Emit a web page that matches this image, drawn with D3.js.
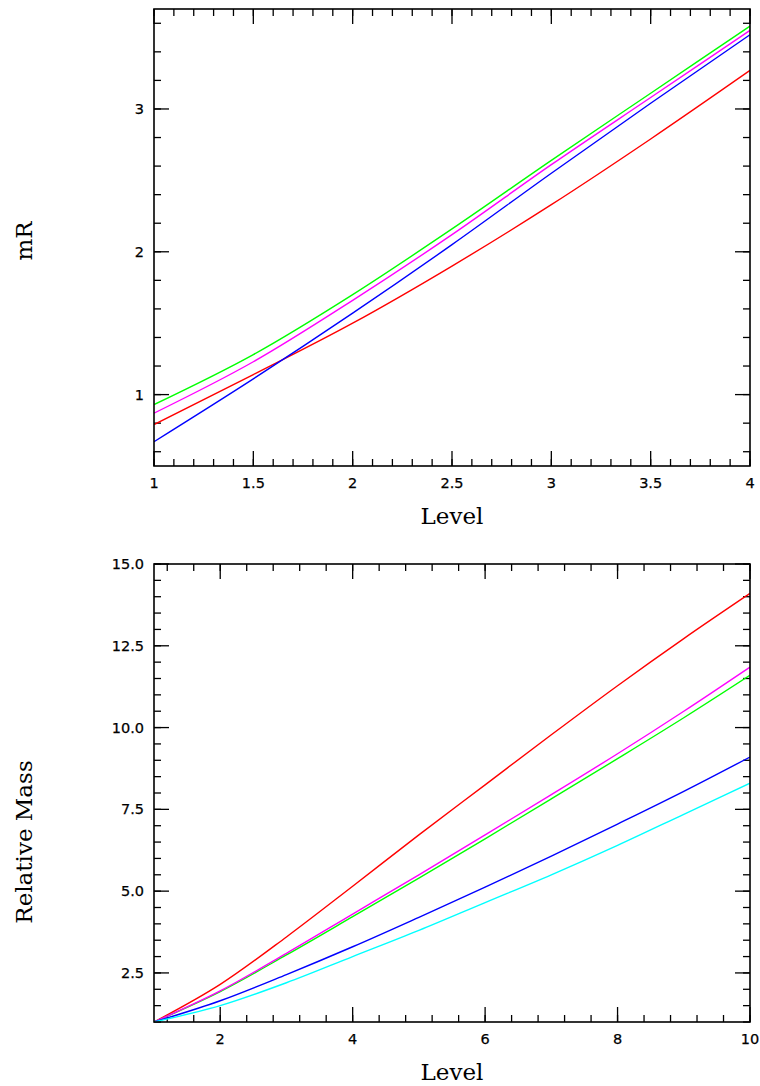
<!DOCTYPE html>
<html><head><meta charset="utf-8">
<script src="https://cdn.jsdelivr.net/npm/d3@7"></script>
<style>body{margin:0;background:#fff}svg{display:block}</style>
</head><body>
<svg id="c" width="760" height="1086"></svg>
<script>
// Top panel data (Level vs mR)
const topLevels = [1, 1.5, 2, 2.5, 3, 3.5, 4];
const topGreen   = [0.93, 1.28, 1.70, 2.16, 2.64, 3.11, 3.58];
const topMagenta = [0.87, 1.23, 1.66, 2.12, 2.61, 3.08, 3.55];
const topBlue    = [0.67, 1.11, 1.57, 2.05, 2.55, 3.04, 3.52];
const topRed     = [0.79, 1.14, 1.50, 1.90, 2.33, 2.79, 3.27];
const topXTicks = [1, 1.5, 2, 2.5, 3, 3.5, 4];
const topYTicks = [1, 2, 3];

// Bottom panel data (Level vs Relative Mass)
const botLevels = [1, 2, 3, 4, 5, 6, 7, 8, 9, 10];
const botRed     = [1, 2.15, 3.60, 5.15, 6.72, 8.25, 9.78, 11.28, 12.72, 14.10];
const botMagenta = [1, 1.95, 3.10, 4.30, 5.50, 6.72, 7.95, 9.20, 10.50, 11.85];
const botGreen   = [1, 1.93, 3.05, 4.22, 5.40, 6.60, 7.82, 9.05, 10.30, 11.60];
const botBlue    = [1, 1.65, 2.45, 3.30, 4.20, 5.12, 6.07, 7.05, 8.05, 9.10];
const botCyan    = [1, 1.50, 2.20, 3.00, 3.80, 4.65, 5.50, 6.40, 7.35, 8.30];
const botXTicks = [2, 4, 6, 8, 10];
const botYTicks = [2.5, 5.0, 7.5, 10.0, 12.5, 15.0];

const svg = d3.select("#c");

function panel(opts) {
  const {x0, x1, y0, y1, xdom, ydom, xMinorStep, yMinorStep, xTicks, yTicks, xFmt, yFmt, series, xs, xTitle, yTitle, yTitleY, xTitleY} = opts;
  const x = d3.scaleLinear().domain(xdom).range([x0, x1]);
  const y = d3.scaleLinear().domain(ydom).range([y1, y0]);
  const g = svg.append("g");
  const clipId = "clip" + Math.round(y0);
  svg.append("clipPath").attr("id", clipId).append("rect")
    .attr("x", x0).attr("y", y0).attr("width", x1 - x0).attr("height", y1 - y0);

  const eps = 1e-9;
  const xMinor = d3.range(Math.ceil(xdom[0] / xMinorStep - eps) * xMinorStep, xdom[1] + eps, xMinorStep);
  const yMinor = d3.range(Math.ceil(ydom[0] / yMinorStep - eps) * yMinorStep, ydom[1] + eps, yMinorStep);
  const minL = 7, majL = 15;
  const tickG = g.append("g").attr("stroke", "#000").attr("stroke-width", 1.3);
  xMinor.forEach(v => {
    const px = x(v);
    tickG.append("line").attr("x1", px).attr("x2", px).attr("y1", y1).attr("y2", y1 - minL);
    tickG.append("line").attr("x1", px).attr("x2", px).attr("y1", y0).attr("y2", y0 + minL);
  });
  xTicks.forEach(v => {
    const px = x(v);
    tickG.append("line").attr("x1", px).attr("x2", px).attr("y1", y1).attr("y2", y1 - majL);
    tickG.append("line").attr("x1", px).attr("x2", px).attr("y1", y0).attr("y2", y0 + majL);
  });
  yMinor.forEach(v => {
    const py = y(v);
    tickG.append("line").attr("x1", x0).attr("x2", x0 + minL).attr("y1", py).attr("y2", py);
    tickG.append("line").attr("x1", x1).attr("x2", x1 - minL).attr("y1", py).attr("y2", py);
  });
  yTicks.forEach(v => {
    const py = y(v);
    tickG.append("line").attr("x1", x0).attr("x2", x0 + majL).attr("y1", py).attr("y2", py);
    tickG.append("line").attr("x1", x1).attr("x2", x1 - majL).attr("y1", py).attr("y2", py);
  });

  const line = d3.line().x((d, i) => x(xs[i])).y(d => y(d)).curve(d3.curveMonotoneX);
  series.forEach(s => {
    g.append("path").attr("d", line(s.values)).attr("fill", "none")
      .attr("stroke", s.color).attr("stroke-width", 1.4).attr("clip-path", `url(#${clipId})`);
  });

  g.append("rect").attr("x", x0).attr("y", y0).attr("width", x1 - x0).attr("height", y1 - y0)
    .attr("fill", "none").attr("stroke", "#000").attr("stroke-width", 1.6);

  const lab = g.append("g").attr("font-family", "DejaVu Sans, sans-serif").attr("font-size", 14.5)
    .attr("fill", "#000").attr("stroke", "#000").attr("stroke-width", 0.25);
  xTicks.forEach(v => {
    lab.append("text").attr("x", x(v)).attr("y", y1 + 22).attr("text-anchor", "middle").text(xFmt(v));
  });
  yTicks.forEach(v => {
    lab.append("text").attr("x", x0 - 10).attr("y", y(v) + 5).attr("text-anchor", "end").text(yFmt(v));
  });

  g.append("text").attr("x", (x0 + x1) / 2).attr("y", xTitleY).attr("text-anchor", "middle")
    .attr("font-family", "DejaVu Serif, serif").attr("font-size", 23).text(xTitle);
  g.append("text").attr("transform", `translate(32,${yTitleY}) rotate(-90)`).attr("text-anchor", "middle")
    .attr("font-family", "DejaVu Serif, serif").attr("font-size", 23).text(yTitle);
}

panel({
  x0: 154, x1: 750, y0: 9, y1: 466,
  xdom: [1, 4], ydom: [0.5, 3.7],
  xMinorStep: 0.1, yMinorStep: 0.2,
  xTicks: topXTicks, yTicks: topYTicks,
  xFmt: d => String(d), yFmt: d => String(d),
  xs: topLevels,
  series: [
    {values: topRed, color: "#ff0000"},
    {values: topGreen, color: "#00ff00"},
    {values: topMagenta, color: "#ff00ff"},
    {values: topBlue, color: "#0000ff"}
  ],
  xTitle: "Level", yTitle: "mR", xTitleY: 524, yTitleY: 241
});

panel({
  x0: 154, x1: 750, y0: 564, y1: 1022,
  xdom: [1, 10], ydom: [1, 15],
  xMinorStep: 0.4, yMinorStep: 0.5,
  xTicks: botXTicks, yTicks: botYTicks,
  xFmt: d => String(d), yFmt: d => d.toFixed(1),
  xs: botLevels,
  series: [
    {values: botRed, color: "#ff0000"},
    {values: botGreen, color: "#00ff00"},
    {values: botMagenta, color: "#ff00ff"},
    {values: botBlue, color: "#0000ff"},
    {values: botCyan, color: "#00ffff"}
  ],
  xTitle: "Level", yTitle: "Relative Mass", xTitleY: 1080, yTitleY: 842
});
</script>
</body></html>
